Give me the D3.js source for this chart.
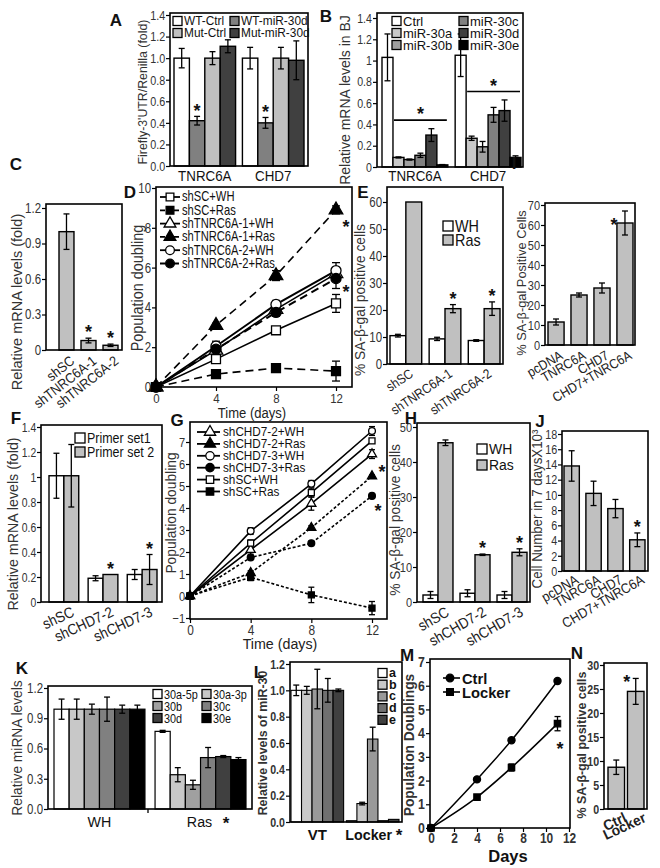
<!DOCTYPE html>
<html><head><meta charset="utf-8">
<script src="https://cdn.jsdelivr.net/npm/d3@7"></script>
<style>body{margin:0;background:#fff}</style>
</head><body>
<script>
// ---------------- DATA ----------------
const aGroups = ["TNRC6A","CHD7"];
const aSeries = ["WT-Ctrl","WT-miR-30d","Mut-Ctrl","Mut-miR-30d"];
const aValues = [[1.0,1.0],[0.42,0.40],[1.0,1.0],[1.11,0.98]];
const aErrors = [[0.09,0.10],[0.04,0.05],[0.06,0.10],[0.06,0.18]];
const aTicks = [0,0.2,0.4,0.6,0.8,1.0,1.2,1.4];

const bGroups = ["TNRC6A","CHD7"];
const bSeries = ["Ctrl","miR-30a","miR-30b","miR-30c","miR-30d","miR-30e"];
const bValues = [[1.03,1.05],[0.09,0.27],[0.07,0.19],[0.11,0.49],[0.30,0.53],[0.02,0.09]];
const bErrors = [[0.22,0.20],[0.005,0.02],[0.005,0.05],[0.02,0.07],[0.06,0.10],[0.003,0.015]];
const bTicks = [0,0.2,0.4,0.6,0.8,1,1.2,1.4];

const cCats = ["shSC","shTNRC6A-1","shTNRC6A-2"];
const cValues = [1.0,0.08,0.04];
const cErrors = [0.15,0.02,0.01];
const cTicks = [0,0.3,0.6,0.9,1.2];

const dDays = [0,4,8,12];
const dSeries = ["shSC+WH","shSC+Ras","shTNRC6A-1+WH","shTNRC6A-1+Ras","shTNRC6A-2+WH","shTNRC6A-2+Ras"];
const dValues = [[0,1.4,2.85,4.2],[0,0.65,0.95,0.8],[0,1.85,3.9,5.7],[0,3.1,5.6,8.9],[0,2.05,4.15,5.85],[0,1.9,3.75,5.45]];
const dErrors = [[0,0.1,0.15,0.45],[0,0.05,0.15,0.5],[0,0.15,0.2,0.3],[0,0.1,0.25,0.2],[0,0.25,0.2,0.4],[0,0.2,0.2,0.5]];
const dYTicks = [0,2,4,6,8,10];

const eCats = ["shSC","shTNRC6A-1","shTNRC6A-2"];
const eSeries = ["WH","Ras"];
const eValues = [[10.5,9.3,8.7],[60,20.5,20.5]];
const eErrors = [[0.5,0.6,0.3],[0,1.5,2.5]];
const eTicks = [0,10,20,30,40,50,60];

const iCats = ["pcDNA","TNRC6A","CHD7","CHD7+TNRC6A"];
const iValues = [11.5,25,28.5,61];
const iErrors = [1.5,1,2.5,6];
const iTicks = [0,10,20,30,40,50,60,70];

const fCats = ["shSC","shCHD7-2","shCHD7-3"];
const fSeries = ["Primer set1","Primer set 2"];
const fValues = [[1.01,0.19,0.22],[1.01,0.22,0.26]];
const fErrors = [[0.18,0.02,0.04],[0.25,0,0.12]];
const fTicks = [0,0.2,0.4,0.6,0.8,1,1.2,1.4];

const gDays = [0,4,8,12];
const gSeries = ["shCHD7-2+WH","shCHD7-2+Ras","shCHD7-3+WH","shCHD7-3+Ras","shSC+WH","shSC+Ras"];
const gValues = [[0,2.1,4.2,6.45],[0,1.05,3.1,5.45],[0,2.95,5.1,7.5],[0,1.75,2.4,4.55],[0,2.4,4.7,7.05],[0,0.85,0.05,-0.55]];
const gErrors = [[0,0.2,0.3,0.2],[0,0.1,0.1,0.05],[0,0.15,0.15,0.2],[0,0.05,0.05,0.05],[0,0.15,0.2,0.1],[0,0.15,0.35,0.3]];
const gYTicks = [-1,0,1,2,3,4,5,6,7];

const hCats = ["shSC","shCHD7-2","shCHD7-3"];
const hSeries = ["WH","Ras"];
const hValues = [[2,2.5,2],[45.5,13.5,14.2]];
const hErrors = [[1,1,1],[0.8,0.2,1]];
const hTicks = [0,10,20,30,40,50];

const jCats = ["pcDNA","TNRC6A","CHD7","CHD7+TNRC6A"];
const jValues = [13.8,10.2,8.2,4.1];
const jErrors = [2.0,1.6,1.2,0.9];
const jTicks = [0,2,4,6,8,10,12,14,16,18];

const kGroups = ["WH","Ras"];
const kSeries = ["30a-5p","30a-3p","30b","30c","30d","30e"];
const kValues = [[0.99,0.77],[0.99,0.34],[0.99,0.24],[0.99,0.51],[0.99,0.52],[0.99,0.49]];
const kErrors = [[0.1,0.01],[0.1,0.07],[0.05,0.045],[0.12,0.1],[0.04,0.01],[0.04,0.02]];
const kTicks = [0,0.3,0.6,0.9,1.2];

const lGroups = ["VT","Locker"];
const lSeries = ["a","b","c","d","e"];
const lValues = [[1.0,0.01],[1.0,0.14],[1.01,0.63],[1.0,0.01],[1.0,0.02]];
const lErrors = [[0.04,0],[0.03,0.01],[0.15,0.09],[0.09,0],[0.01,0]];
const lTicks = [0,0.2,0.4,0.6,0.8,1.0,1.2];

const mDays = [0,4,7,11];
const mSeries = ["Ctrl","Locker"];
const mValues = [[0,2.05,3.7,6.2],[0,1.3,2.55,4.4]];
const mErrors = [[0,0.05,0.08,0.05],[0,0.08,0.15,0.3]];
const mXTicks = [0,2,4,6,8,10,12];
const mYTicks = [0,1,2,3,4,5,6,7];

const nCats = ["Ctrl","Locker"];
const nValues = [8.7,24.5];
const nErrors = [1.5,2.7];
const nTicks = [0,5,10,15,20,25,30];

// ---------------- HELPERS ----------------
const FONT = "'Liberation Sans', Arial, Helvetica, sans-serif";
const svg = d3.select("body").append("svg").attr("width",660).attr("height",868)
  .style("font-family",FONT).style("background","#fff");

function txt(x,y,s,o={}){
  const t = svg.append("text").attr("x",x).attr("y",y).text(s)
    .attr("font-size",o.fs||14).attr("font-weight",o.bold?"bold":"normal")
    .attr("text-anchor",o.anchor||"middle").attr("fill",o.fill||"#111");
  if(o.db) t.attr("dominant-baseline",o.db);
  let tr = "";
  if(o.rot!=null) tr += `rotate(${o.rot},${x},${y}) `;
  if(o.sx!=null) tr += `translate(${x},${y}) scale(${o.sx},1) translate(${-x},${-y})`;
  if(tr) t.attr("transform",tr);
  return t;
}
function ytitle(x,cy,s,fs,bold,sx){ return txt(x,cy,s,{fs,bold,rot:-90,db:"central",fill:"#333",sx}); }
function star(x,cy,fs=18){ txt(x,cy+0.57*fs,"*",{fs,bold:true}); }
function plabel(x,y,s){ txt(x,y,s,{fs:17,bold:true,db:"central"}); }
function frame(f){
  svg.append("rect").attr("x",f.l).attr("y",f.t).attr("width",f.r-f.l).attr("height",f.b-f.t)
    .attr("fill","none").attr("stroke","#000").attr("stroke-width",1.6);
}
function yAxis(f,y,ticks,fmt,fs,bold,sx){
  const g = svg.append("g").attr("transform",`translate(${f.l},0)`)
    .call(d3.axisLeft(y).tickValues(ticks).tickFormat(fmt).tickSize(4).tickPadding(2));
  g.select(".domain").remove();
  g.selectAll("line").attr("stroke","#000").attr("stroke-width",1.2);
  g.selectAll("text").attr("font-size",fs).attr("font-family",FONT)
    .attr("font-weight",bold?"bold":"normal").attr("fill","#333")
    .attr("transform",`scale(${sx||0.82},1)`);
  return g;
}
function xAxis(f,x,ticks,fs,bold,pad){
  const g = svg.append("g").attr("transform",`translate(0,${f.b})`)
    .call(d3.axisBottom(x).tickValues(ticks).tickFormat(d3.format("d")).tickSize(4).tickPadding(pad||2));
  g.select(".domain").remove();
  g.selectAll("line").attr("stroke","#000").attr("stroke-width",1.2);
  g.selectAll("text").attr("font-size",fs).attr("font-family",FONT)
    .attr("font-weight",bold?"bold":"normal").attr("fill","#333")
    .attr("transform","scale(0.85,1)");
  return g;
}
function errBar(g,cx,y1,y2,cap){
  g.append("line").attr("x1",cx).attr("x2",cx).attr("y1",y1).attr("y2",y2).attr("stroke","#000").attr("stroke-width",1.3);
  [y1,y2].forEach(yy=>g.append("line").attr("x1",cx-cap).attr("x2",cx+cap).attr("y1",yy).attr("y2",yy).attr("stroke","#000").attr("stroke-width",1.3));
}
function bars(y,groups,series,colors,values,errors,range,pad,sw){
  const xg = d3.scaleBand().domain(groups).range(range).paddingInner(pad).paddingOuter(0);
  const xs = d3.scaleBand().domain(series).range([0,xg.bandwidth()]);
  const g = svg.append("g");
  series.forEach((s,i)=>groups.forEach((gr,j)=>{
    const v = values[i][j];
    const x = xg(gr)+xs(s), w = xs.bandwidth();
    g.append("rect").attr("x",x).attr("y",y(v)).attr("width",w).attr("height",Math.max(0,y(0)-y(v)))
      .attr("fill",colors[i]).attr("stroke","#000").attr("stroke-width",sw||1.4);
  }));
  series.forEach((s,i)=>groups.forEach((gr,j)=>{
    const v = values[i][j], e = errors ? errors[i][j] : 0;
    if(e>0){
      const cx = xg(gr)+xs(s)+xs.bandwidth()/2;
      errBar(g,cx,y(v-e),y(v+e),3);
    }
  }));
  return {xg,xs,c:(gr,s)=>xg(gr)+xs(s)+xs.bandwidth()/2};
}
function legSq(x,y,color,label,fs,bold,sz,sx){
  const s = sz||9;
  svg.append("rect").attr("x",x).attr("y",y-s/2).attr("width",s).attr("height",s)
    .attr("fill",color).attr("stroke","#000").attr("stroke-width",1.3);
  txt(x+s+2,y,label,{fs,bold,anchor:"start",db:"central",sx});
}
function rotLabels(cats,cx,y0,angle,fs,bold,sx){
  cats.forEach(c=>{
    const x = cx(c)+3, y = y0;
    const t = txt(x,y+fs*0.7,c,{fs,bold,anchor:"end",fill:"#222"});
    t.attr("transform",`rotate(${angle},${x},${y}) translate(${x},${y}) scale(${sx||0.9},1) translate(${-x},${-y})`);
  });
}
function marker(g,shape,cx,cy,s,filled){
  const sym = {square:d3.symbolSquare,triangle:d3.symbolTriangle,circle:d3.symbolCircle}[shape];
  g.append("path").attr("d",d3.symbol(sym,s)()).attr("transform",`translate(${cx},${cy})`)
    .attr("fill",filled?"#000":"#fff").attr("stroke","#000").attr("stroke-width",1.3);
}
function lines(x,y,days,values,errors,styles,msz,cap){
  const g = svg.append("g");
  values.forEach((vals,i)=>{
    const st = styles[i];
    const pts = days.map((d,k)=>[x(d),y(vals[k])]);
    g.append("path").attr("d",d3.line().curve(st.curve||d3.curveLinear)(pts))
      .attr("fill","none").attr("stroke","#000").attr("stroke-width",st.w||1.6)
      .attr("stroke-dasharray",st.dash||null);
  });
  values.forEach((vals,i)=>days.forEach((d,k)=>{
    const e = errors[i][k];
    if(e>0) errBar(g,x(d),y(vals[k]-e),y(vals[k]+e),cap||3);
  }));
  values.forEach((vals,i)=>days.forEach((d,k)=>{
    marker(g,styles[i].shape,x(d),y(vals[k]),msz,styles[i].filled);
  }));
}
const fmt1 = d3.format(".1f");
const fmtB = d => d===0 ? "0" : (d===1 ? "1" : fmt1(d));
const fmtC = d => d===0 ? "0" : fmt1(d);
const fmtI = d3.format("d");

// ---------------- PANEL A ----------------
{
  const f={l:170,r:308,t:13,b:166};
  const y=d3.scaleLinear().domain([0,1.4]).range([166,15]);
  const cols=["#ffffff","#808080","#c0c0c0","#404040"];
  const B=bars(y,aGroups,aSeries,cols,aValues,aErrors,[174,304],0.1);
  frame(f); yAxis(f,y,aTicks,fmt1,13.5,false,0.8);
  aGroups.forEach(gr=>txt(B.xg(gr)+B.xg.bandwidth()/2,181,gr,{fs:14.5,sx:0.92}));
  aGroups.forEach((gr,j)=>star(B.c(gr,"WT-miR-30d"),y(aValues[1][j]+aErrors[1][j])-10));
  legSq(173,21,cols[0],aSeries[0],12.5,false,9,0.95); legSq(230,21,cols[1],aSeries[1],12.5,false,9,0.95);
  legSq(173,33,cols[2],aSeries[2],12.5,false,9,0.95); legSq(230,33,cols[3],aSeries[3],12.5,false,9,0.95);
  ytitle(143,92,"Firefly-3'UTR/Renilla (fold)",13,false,0.95);
  plabel(116,20,"A");
}
// ---------------- PANEL B ----------------
{
  const f={l:377,r:523,t:13,b:167};
  const y=d3.scaleLinear().domain([0,1.4]).range([167,18]);
  const cols=["#ffffff","#c8c8c8","#a0a0a0","#808080","#404040","#000000"];
  const B=bars(y,bGroups,bSeries,cols,bValues,bErrors,[382,521],0.1);
  frame(f); yAxis(f,y,bTicks,fmtB,12.5,false,0.85);
  bGroups.forEach(gr=>txt(B.xg(gr)+B.xg.bandwidth()/2,181,gr,{fs:14.5,sx:0.92}));
  const sig=[0.44,0.71];
  bGroups.forEach((gr,j)=>{
    const x1=B.xg(gr)+B.xs("miR-30a")+1, x2=B.xg(gr)+B.xg.bandwidth()-1;
    svg.append("line").attr("x1",x1).attr("x2",x2).attr("y1",y(sig[j])).attr("y2",y(sig[j])).attr("stroke","#000").attr("stroke-width",1.6);
    star((x1+x2)/2,y(sig[j])-10);
  });
  legSq(392,21,cols[0],bSeries[0],13); legSq(392,33,cols[1],bSeries[1],13); legSq(392,45,cols[2],bSeries[2],13);
  legSq(459,21,cols[3],bSeries[3],13); legSq(459,33,cols[4],bSeries[4],13); legSq(459,45,cols[5],bSeries[5],13);
  ytitle(345,100,"Relative mRNA levels in BJ",14);
  plabel(326,16,"B");
}
// ---------------- PANEL C ----------------
{
  const f={l:46,r:122,t:204,b:350};
  const y=d3.scaleLinear().domain([0,1.2]).range([350,208]);
  const B=bars(y,cCats,["v"],["#c0c0c0"],[cValues],[cErrors],[59,118],0.32);
  frame(f); yAxis(f,y,cTicks,fmtC,14,false,0.82);
  cCats.slice(1).forEach((c,k)=>star(B.c(c,"v"),y(cValues[k+1]+cErrors[k+1])-10));
  rotLabels(cCats,c=>B.c(c,"v"),355,-38,14);
  ytitle(17,302,"Relative mRNA levels (fold)",14.5);
  plabel(16,164,"C");
}
// ---------------- PANEL D ----------------
{
  const f={l:156,r:352,t:187,b:387};
  const y=d3.scaleLinear().domain([0,10]).range([387,188]);
  const x=d3.scaleLinear().domain([0,12]).range([156,336]);
  const st=[{shape:"square",filled:false},{shape:"square",filled:true,dash:"8,5"},
            {shape:"triangle",filled:false},{shape:"triangle",filled:true,dash:"8,5"},
            {shape:"circle",filled:false,w:2},{shape:"circle",filled:true,dash:"8,5",w:2}];
  lines(x,y,dDays,dValues,dErrors,st,80,4);
  frame(f); yAxis(f,y,dYTicks,fmtI,14,false,0.82); xAxis(f,x,dDays,13.5,false,2);
  const lg=svg.append("g");
  dSeries.forEach((s,i)=>{
    const yy=197+i*13.3;
    lg.append("line").attr("x1",160).attr("x2",180).attr("y1",yy).attr("y2",yy).attr("stroke","#000").attr("stroke-width",1.8).attr("stroke-dasharray",st[i].dash?"5,2":null);
    marker(lg,st[i].shape,170,yy,60,st[i].filled);
    txt(182,yy,s,{fs:14,anchor:"start",db:"central",sx:0.8});
  });
  star(x(12)+10,y(dValues[3][3])+13);
  star(x(12)+10,y(dValues[5][3])+9);
  txt(252,418,"Time (days)",{fs:14.5,fill:"#222",sx:0.9});
  ytitle(137,288,"Population doubling",16,false,0.9);
  plabel(130,192,"D");
}
// ---------------- PANEL E ----------------
{
  const f={l:387,r:503,t:187,b:364};
  const y=d3.scaleLinear().domain([0,60]).range([364,202]);
  const cols=["#ffffff","#c0c0c0"];
  const B=bars(y,eCats,eSeries,cols,eValues,eErrors,[390,500],0.19);
  frame(f); yAxis(f,y,eTicks,fmtI,14,false,0.82);
  [1,2].forEach(j=>star(B.c(eCats[j],"Ras"),y(eValues[1][j]+eErrors[1][j])-10));
  rotLabels(eCats,c=>B.xg(c)+B.xg.bandwidth()/2,368,-34,13.5,false,0.88);
  legSq(443,226,cols[0],"WH",16,false,10,0.9); legSq(443,240,cols[1],"Ras",16,false,10,0.9);
  ytitle(360,300,"% SA-β-gal positive cells",15,false,0.92);
  plabel(363,192,"E");
}
// ---------------- PANEL I ----------------
{
  const f={l:545,r:635,t:203,b:345};
  const y=d3.scaleLinear().domain([0,70]).range([345,205]);
  const B=bars(y,iCats,["v"],["#c0c0c0"],[iValues],[iErrors],[548,633],0.3);
  frame(f); yAxis(f,y,iTicks,fmtI,13.5,false,0.82);
  star(B.c("CHD7+TNRC6A","v")-11,y(iValues[3])-2);
  rotLabels(iCats,c=>B.c(c,"v"),350,-30,13.5);
  ytitle(521,283,"% SA-β-gal Positive Cells",13.5,false,0.95);
  plabel(514,163,"I");
}
// ---------------- PANEL F ----------------
{
  const f={l:41,r:162,t:425,b:602};
  const y=d3.scaleLinear().domain([0,1.4]).range([602,427]);
  const cols=["#ffffff","#c0c0c0"];
  const B=bars(y,fCats,fSeries,cols,fValues,fErrors,[49,157],0.24);
  frame(f); yAxis(f,y,fTicks,fmtB,13,false,0.8);
  [1,2].forEach(j=>star(B.c(fCats[j],"Primer set 2"),y(fValues[1][j]+fErrors[1][j])-10));
  rotLabels(fCats,c=>B.xg(c)+B.xg.bandwidth()/2+4,606,-25,15);
  legSq(75,438,cols[0],"Primer set1",14.5,false,10,0.86); legSq(75,452,cols[1],"Primer set 2",14.5,false,10,0.86);
  ytitle(13,524,"Relative mRNA levels (fold)",15,false,0.95);
  plabel(16,418,"F");
}
// ---------------- PANEL G ----------------
{
  const f={l:190,r:387,t:422,b:619};
  const y=d3.scaleLinear().domain([0,7]).range([596,442]);
  const x=d3.scaleLinear().domain([0,12]).range([190,372]);
  const st=[{shape:"triangle",filled:false},{shape:"triangle",filled:true,dash:"3,2"},
            {shape:"circle",filled:false},{shape:"circle",filled:true,dash:"3,2"},
            {shape:"square",filled:false},{shape:"square",filled:true,dash:"3,2"}];
  lines(x,y,gDays,gValues,gErrors,st,36,3);
  frame(f); yAxis(f,y,gYTicks,fmtI,13.5,false,0.82); xAxis(f,x,gDays,14,false,2);
  const lg=svg.append("g");
  gSeries.forEach((s,i)=>{
    const yy=432+i*11.9;
    lg.append("line").attr("x1",197).attr("x2",220).attr("y1",yy).attr("y2",yy).attr("stroke","#000").attr("stroke-width",1.8);
    marker(lg,st[i].shape,210,yy,55,st[i].filled);
    txt(223,yy,s,{fs:13.5,anchor:"start",db:"central",sx:0.87});
  });
  star(x(12)+10,y(gValues[1][3])-8);
  star(x(12)+6,y(gValues[3][3])+11);
  txt(280,649,"Time (days)",{fs:15.5,fill:"#222",sx:0.92});
  ytitle(171,513,"Population doubling",15,false,0.92);
  plabel(177,420,"G");
}
// ---------------- PANEL H ----------------
{
  const f={l:417,r:530,t:423,b:602};
  const y=d3.scaleLinear().domain([0,50]).range([602,427]);
  const cols=["#ffffff","#c0c0c0"];
  const B=bars(y,hCats,hSeries,cols,hValues,hErrors,[423,527],0.19);
  frame(f); yAxis(f,y,hTicks,fmtI,13.5,false,0.82);
  [1,2].forEach(j=>star(B.c(hCats[j],"Ras"),y(hValues[1][j]+hErrors[1][j])-10));
  rotLabels(hCats,c=>B.xg(c)+B.xg.bandwidth()/2+4,606,-30,15);
  legSq(477,449,cols[0],"WH",15.5,false,10,0.9); legSq(477,465,cols[1],"Ras",15.5,false,10,0.9);
  ytitle(395,520,"% SA-β-gal positive cells",14.5,false,0.95);
  plabel(411,418,"H");
}
// ---------------- PANEL J ----------------
{
  const f={l:562,r:648,t:431,b:571};
  const y=d3.scaleLinear().domain([0,18]).range([571,434]);
  const B=bars(y,jCats,["v"],["#c0c0c0"],[jValues],[jErrors],[564,645],0.3);
  frame(f); yAxis(f,y,jTicks,fmtI,13.5,false,0.8);
  star(B.c("CHD7+TNRC6A","v"),y(jValues[3]+jErrors[3])-10);
  rotLabels(jCats,c=>B.c(c,"v"),574,-30,14);
  ytitle(537,509,"Cell Number in 7 daysX10³",14,false,0.95);
  plabel(540,421,"J");
}
// ---------------- PANEL K ----------------
{
  const f={l:48,r:252,t:686,b:809};
  const y=d3.scaleLinear().domain([0,1.2]).range([809,688]);
  const cols=["#ffffff","#c8c8c8","#a0a0a0","#808080","#404040","#000000"];
  const B=bars(y,kGroups,kSeries,cols,kValues,kErrors,[54,246],0.1,1.2);
  frame(f); yAxis(f,y,kTicks,fmt1,14,false,0.82);
  svg.append("line").attr("x1",148).attr("x2",148).attr("y1",809).attr("y2",813).attr("stroke","#000").attr("stroke-width",1.3);
  txt(B.xg("WH")+B.xg.bandwidth()/2,827,"WH",{fs:15.5,sx:0.92});
  txt(B.xg("Ras")+B.xg.bandwidth()/2-1,827,"Ras",{fs:15.5,sx:0.92});
  star(226,819,17);
  const ls=0.87;
  legSq(153,694,cols[0],kSeries[0],12.5,false,9,ls); legSq(153,706,cols[2],kSeries[2],12.5,false,9,ls); legSq(153,718,cols[4],kSeries[4],12.5,false,9,ls);
  legSq(202,694,cols[1],kSeries[1],12.5,false,9,ls); legSq(202,706,cols[3],kSeries[3],12.5,false,9,ls); legSq(202,718,cols[5],kSeries[5],12.5,false,9,ls);
  ytitle(17,748,"Relative miRNA levels",14.5,false,0.95);
  plabel(22,668,"K");
}
// ---------------- PANEL L ----------------
{
  const f={l:290,r:402,t:662,b:822};
  const y=d3.scaleLinear().domain([0,1.2]).range([822,664]);
  const cols=["#ffffff","#c8c8c8","#999999","#707070","#404040"];
  const B=bars(y,lGroups,lSeries,cols,lValues,lErrors,[291,399],0.05,1.1);
  frame(f); yAxis(f,y,lTicks,fmt1,12.5,true,0.85);
  txt(B.xg("VT")+B.xg.bandwidth()/2,840,"VT",{fs:15,bold:true});
  txt(B.xg("Locker")+B.xg.bandwidth()/2-4,840,"Locker",{fs:15,bold:true,sx:0.95});
  star(399,831,17);
  lSeries.forEach((s,i)=>legSq(378,673+i*11.7,cols[i],s,12.5,true));
  ytitle(263,743,"Relative levels of miR-30",13,true,0.95);
  plabel(259,672,"L");
}
// ---------------- PANEL M ----------------
{
  const f={l:430,r:570,t:659,b:828};
  const y=d3.scaleLinear().domain([0,7]).range([828,662]);
  const x=d3.scaleLinear().domain([0,12]).range([431,569]);
  const st=[{shape:"circle",filled:true,curve:d3.curveMonotoneX,w:1.5},{shape:"square",filled:true,curve:d3.curveMonotoneX,w:1.5}];
  lines(x,y,mDays,mValues,mErrors,st,40,3);
  frame(f); yAxis(f,y,mYTicks,fmtI,14.5,true,0.85); xAxis(f,x,mXTicks,14,true,1);
  const lg=svg.append("g");
  mSeries.forEach((s,i)=>{
    const yy=678+i*14;
    lg.append("line").attr("x1",443).attr("x2",460).attr("y1",yy).attr("y2",yy).attr("stroke","#000").attr("stroke-width",1.6);
    marker(lg,st[i].shape,450,yy,45,true);
    txt(462,yy,s,{fs:15.5,bold:true,anchor:"start",db:"central",sx:0.95});
  });
  star(560,745,18);
  txt(508,862,"Days",{fs:16.5,bold:true});
  ytitle(409,745,"Population Doublings",15,true,0.92);
  plabel(407,655,"M");
}
// ---------------- PANEL N ----------------
{
  const f={l:604,r:647,t:663,b:809};
  const y=d3.scaleLinear().domain([0,30]).range([809,665]);
  const B=bars(y,nCats,["v"],["#c0c0c0"],[nValues],[nErrors],[608,644],0.15);
  frame(f); yAxis(f,y,nTicks,fmtI,13,true,0.82);
  star(B.c("Locker","v")-9,y(nValues[1]+nErrors[1])-1);
  rotLabels(nCats,c=>B.c(c,"v")+4,812,-25,14.5,true,0.95);
  ytitle(581,745,"% SA-β-gal positive cells",13.5,true,0.92);
  plabel(577,653,"N");
}
</script>
</body></html>
